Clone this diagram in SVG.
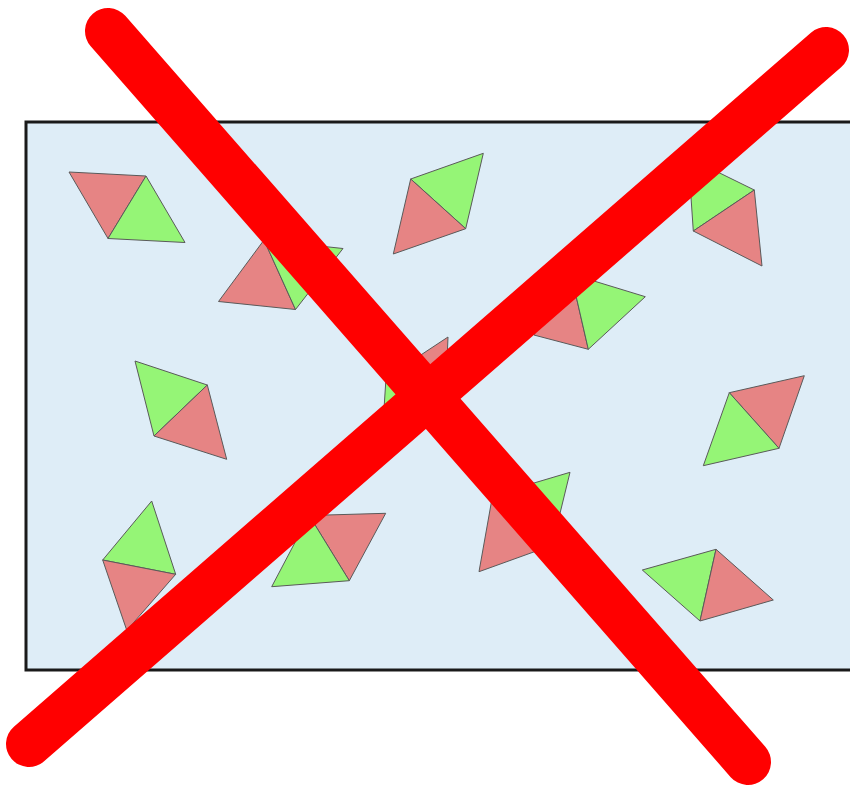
<svg xmlns="http://www.w3.org/2000/svg" width="850" height="786" viewBox="0 0 850 786">
<style>
.p{fill:#e68484;stroke:#5a5a5a;stroke-width:1;stroke-linejoin:round}
.g{fill:#95f576;stroke:#5a5a5a;stroke-width:1;stroke-linejoin:round}
.x{stroke:#ff0000;stroke-width:46;stroke-linecap:round;fill:none}
</style>
<rect width="850" height="786" fill="#ffffff"/>
<rect id="board" x="26" y="122" width="840" height="548" fill="#deedf7" stroke="#1a1a1a" stroke-width="3"/>
<g id="tri-a"><polygon class="p" points="69,172 146,176 108,238.5"/><polygon class="g" points="146,176 108,238.5 185,242.5"/></g>
<g id="tri-b"><polygon class="p" points="264,240 295.5,309.5 218.5,301.5"/><polygon class="g" points="264,240 343,248.5 295.5,309.5"/></g>
<g id="tri-c"><polygon class="g" points="410.7,179 483.3,153.3 465.7,228.7"/><polygon class="p" points="410.7,179 465.7,228.7 393.3,254"/></g>
<g id="tri-d"><polygon class="g" points="688.3,157.6 754.3,190 693.3,231"/><polygon class="p" points="693.3,231 754.3,190 762,266"/></g>
<g id="tri-e"><polygon class="p" points="571,274 588.3,349.3 533.9,335"/><polygon class="g" points="571,274 645.3,296.7 588.3,349.3"/></g>
<g id="tri-f"><polygon class="p" points="448,337 386,378 445,410"/><polygon class="g" points="386,378 445,410 382,440"/></g>
<g id="tri-g"><polygon class="g" points="135,361 207.3,385 154,436"/><polygon class="p" points="207.3,385 154,436 226.7,459.3"/></g>
<g id="tri-h"><polygon class="g" points="151.7,501 102.7,560 175.7,574.3"/><polygon class="p" points="102.7,560 175.7,574.3 126.8,630.4"/></g>
<g id="tri-i"><polygon class="p" points="309.2,515.5 385.7,513.3 349.3,580.7"/><polygon class="g" points="309.2,515.5 349.3,580.7 271.7,586.7"/></g>
<g id="tri-j"><polygon class="g" points="492.6,495.3 570,472.3 552.2,545.3"/><polygon class="p" points="492.6,495.3 552.2,545.3 479,571.7"/></g>
<g id="tri-k"><polygon class="p" points="729.3,392.7 804.3,375.7 779,448.3"/><polygon class="g" points="729.3,392.7 779,448.3 703.3,465.7"/></g>
<g id="tri-l"><polygon class="g" points="642.3,570 716,549.3 700,621"/><polygon class="p" points="716,549.3 700,621 773.3,600"/></g>
<g id="cross">
<line class="x" x1="108" y1="31" x2="748" y2="762"/>
<line class="x" x1="826" y1="50" x2="29" y2="744"/>
</g>
</svg>
